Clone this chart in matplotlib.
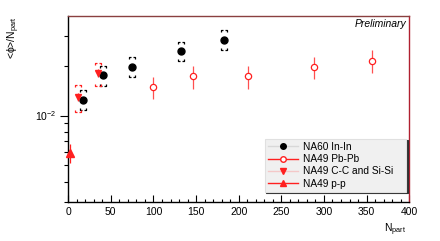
import numpy as np
import matplotlib
matplotlib.use('Agg')
import matplotlib.pyplot as plt
from matplotlib.path import Path
from matplotlib.lines import Line2D

plt.rcParams['font.family'] = ['Liberation Sans', 'DejaVu Sans']
plt.rcParams['mathtext.default'] = 'regular'

# NA60 In-In
na60_x = [17.6, 41.1, 75.1, 132.2, 182.6]
na60_y = [1.249e-2, 1.75e-2, 1.97e-2, 2.45e-2, 2.84e-2]
na60_err = [0.04e-2, 0.05e-2, 0.05e-2, 0.06e-2, 0.07e-2]
na60_syst_hi = [1.434e-2, 1.982e-2, 2.244e-2, 2.78e-2, 3.26e-2]
na60_syst_lo = [1.076e-2, 1.501e-2, 1.711e-2, 2.124e-2, 2.473e-2]

# NA49 Pb-Pb
pb_x = [99.4, 145.9, 211.2, 288.2, 356.6]
pb_y = [1.48e-2, 1.725e-2, 1.725e-2, 1.95e-2, 2.14e-2]
pb_err = [0.23e-2, 0.27e-2, 0.27e-2, 0.30e-2, 0.33e-2]

# NA49 C-C and Si-Si
cc_x = [11.7, 35.2]
cc_y = [1.296e-2, 1.807e-2]
cc_err = [0.08e-2, 0.1e-2]
cc_syst_hi = [1.537e-2, 2.076e-2]
cc_syst_lo = [1.047e-2, 1.501e-2]

# NA49 p-p
pp_x = [2.0]
pp_y = [5.96e-3]
pp_err = [0.77e-3]

# bracket shapes for systematic errors
top_br = Path([(-1, -0.5), (-1, 0), (-0.45, 0), (0.45, 0), (1, 0), (1, -0.5)],
              [Path.MOVETO, Path.LINETO, Path.LINETO, Path.MOVETO, Path.LINETO, Path.LINETO])
bot_br = Path([(-1, 0.5), (-1, 0), (-0.45, 0), (0.45, 0), (1, 0), (1, 0.5)],
              [Path.MOVETO, Path.LINETO, Path.LINETO, Path.MOVETO, Path.LINETO, Path.LINETO])

fig = plt.figure(figsize=(4.4, 2.41), dpi=100)
ax = fig.add_axes([0.155, 0.1606, 0.775, 0.7744])

red = '#ff2020'

for xs, hi, lo, c in [(na60_x, na60_syst_hi, na60_syst_lo, 'black'),
                      (cc_x, cc_syst_hi, cc_syst_lo, red)]:
    ax.plot(xs, hi, ls='none', marker=top_br, ms=4.5, mec=c, mfc='none', mew=0.9)
    ax.plot(xs, lo, ls='none', marker=bot_br, ms=4.5, mec=c, mfc='none', mew=0.9)

ax.errorbar(pb_x, pb_y, yerr=pb_err, fmt='o', ms=4.5, mfc='white', mec=red,
            mew=0.9, ecolor='#ff5050', elinewidth=0.9, capsize=0)
ax.errorbar(na60_x, na60_y, yerr=na60_err, fmt='o', ms=5, color='black',
            elinewidth=0.9, capsize=0)
ax.errorbar(cc_x, cc_y, yerr=cc_err, fmt='v', ms=5, color=red,
            elinewidth=0.9, capsize=0)
ax.errorbar(pp_x, pp_y, yerr=pp_err, fmt='^', ms=5.5, color=red,
            elinewidth=0.9, capsize=0, clip_on=False, zorder=5)

ax.set_yscale('log')
ax.set_xlim(0, 400)
ax.set_ylim(3.0e-3, 4.0e-2)
ax.set_xticks(np.arange(0, 401, 50))
ax.set_xticks(np.arange(0, 401, 10), minor=True)
ax.set_yticks([1e-2])
ax.set_yticklabels([r'$10^{-2}$'])
ax.set_yticks([3e-3, 4e-3, 5e-3, 6e-3, 7e-3, 8e-3, 9e-3, 2e-2, 3e-2], minor=True)
ax.yaxis.set_minor_formatter(matplotlib.ticker.NullFormatter())

ax.tick_params(axis='x', which='major', direction='in', length=4.7, width=0.8,
               labelsize=7.5, pad=3.5, top=False)
ax.tick_params(axis='x', which='minor', direction='in', length=2.2, width=0.8, top=False)
ax.tick_params(axis='y', which='major', direction='out', length=5.8, width=0.8,
               labelsize=7.5, pad=2.5, right=False)
ax.tick_params(axis='y', which='minor', direction='out', length=2.9, width=0.8, right=False)

ax.spines['top'].set_color('#8a4040')
ax.spines['right'].set_color('#b02030')
ax.spines['left'].set_color('black')
ax.spines['bottom'].set_color('black')
for s in ax.spines.values():
    s.set_linewidth(1.0)

ax.set_ylabel(r'<ϕ>/N$_{part}$', fontsize=7.5, loc='top')
ax.yaxis.set_label_coords(-0.135, 1.0)
ax.set_xlabel(r'N$_{part}$', fontsize=7.5, loc='right')
ax.xaxis.set_label_coords(0.99, -0.105)

ax.text(0.992, 0.955, 'Preliminary', transform=ax.transAxes, ha='right', va='center',
        fontsize=7.5, style='italic')

handles = [
    Line2D([], [], color='#d8d8d8', marker='o', ms=4, mfc='black', mec='black', lw=1),
    Line2D([], [], color=red, marker='o', ms=4, mfc='white', mec=red, lw=1),
    Line2D([], [], color='#f4c8c8', marker='v', ms=4.5, mfc=red, mec=red, lw=1),
    Line2D([], [], color=red, marker='^', ms=4.5, mfc=red, mec=red, lw=1),
]
labels = ['NA60 In-In', 'NA49 Pb-Pb', 'NA49 C-C and Si-Si', 'NA49 p-p']
leg = ax.legend(handles, labels, loc='lower left', bbox_to_anchor=(0.577, 0.057, 0.415, 0.295),
                mode='expand', borderaxespad=0, fontsize=7.3, handlelength=3.0,
                handletextpad=0.5, labelspacing=0.22, borderpad=0.3, fancybox=False,
                shadow={'ox': 1, 'oy': -1, 'color': '#303030', 'alpha': 1.0}, framealpha=1)
leg.get_frame().set_facecolor('#f0f0f0')
leg.get_frame().set_edgecolor('#e0e0e0')
leg.get_frame().set_linewidth(0.8)

fig.savefig('out.png', dpi=100)
